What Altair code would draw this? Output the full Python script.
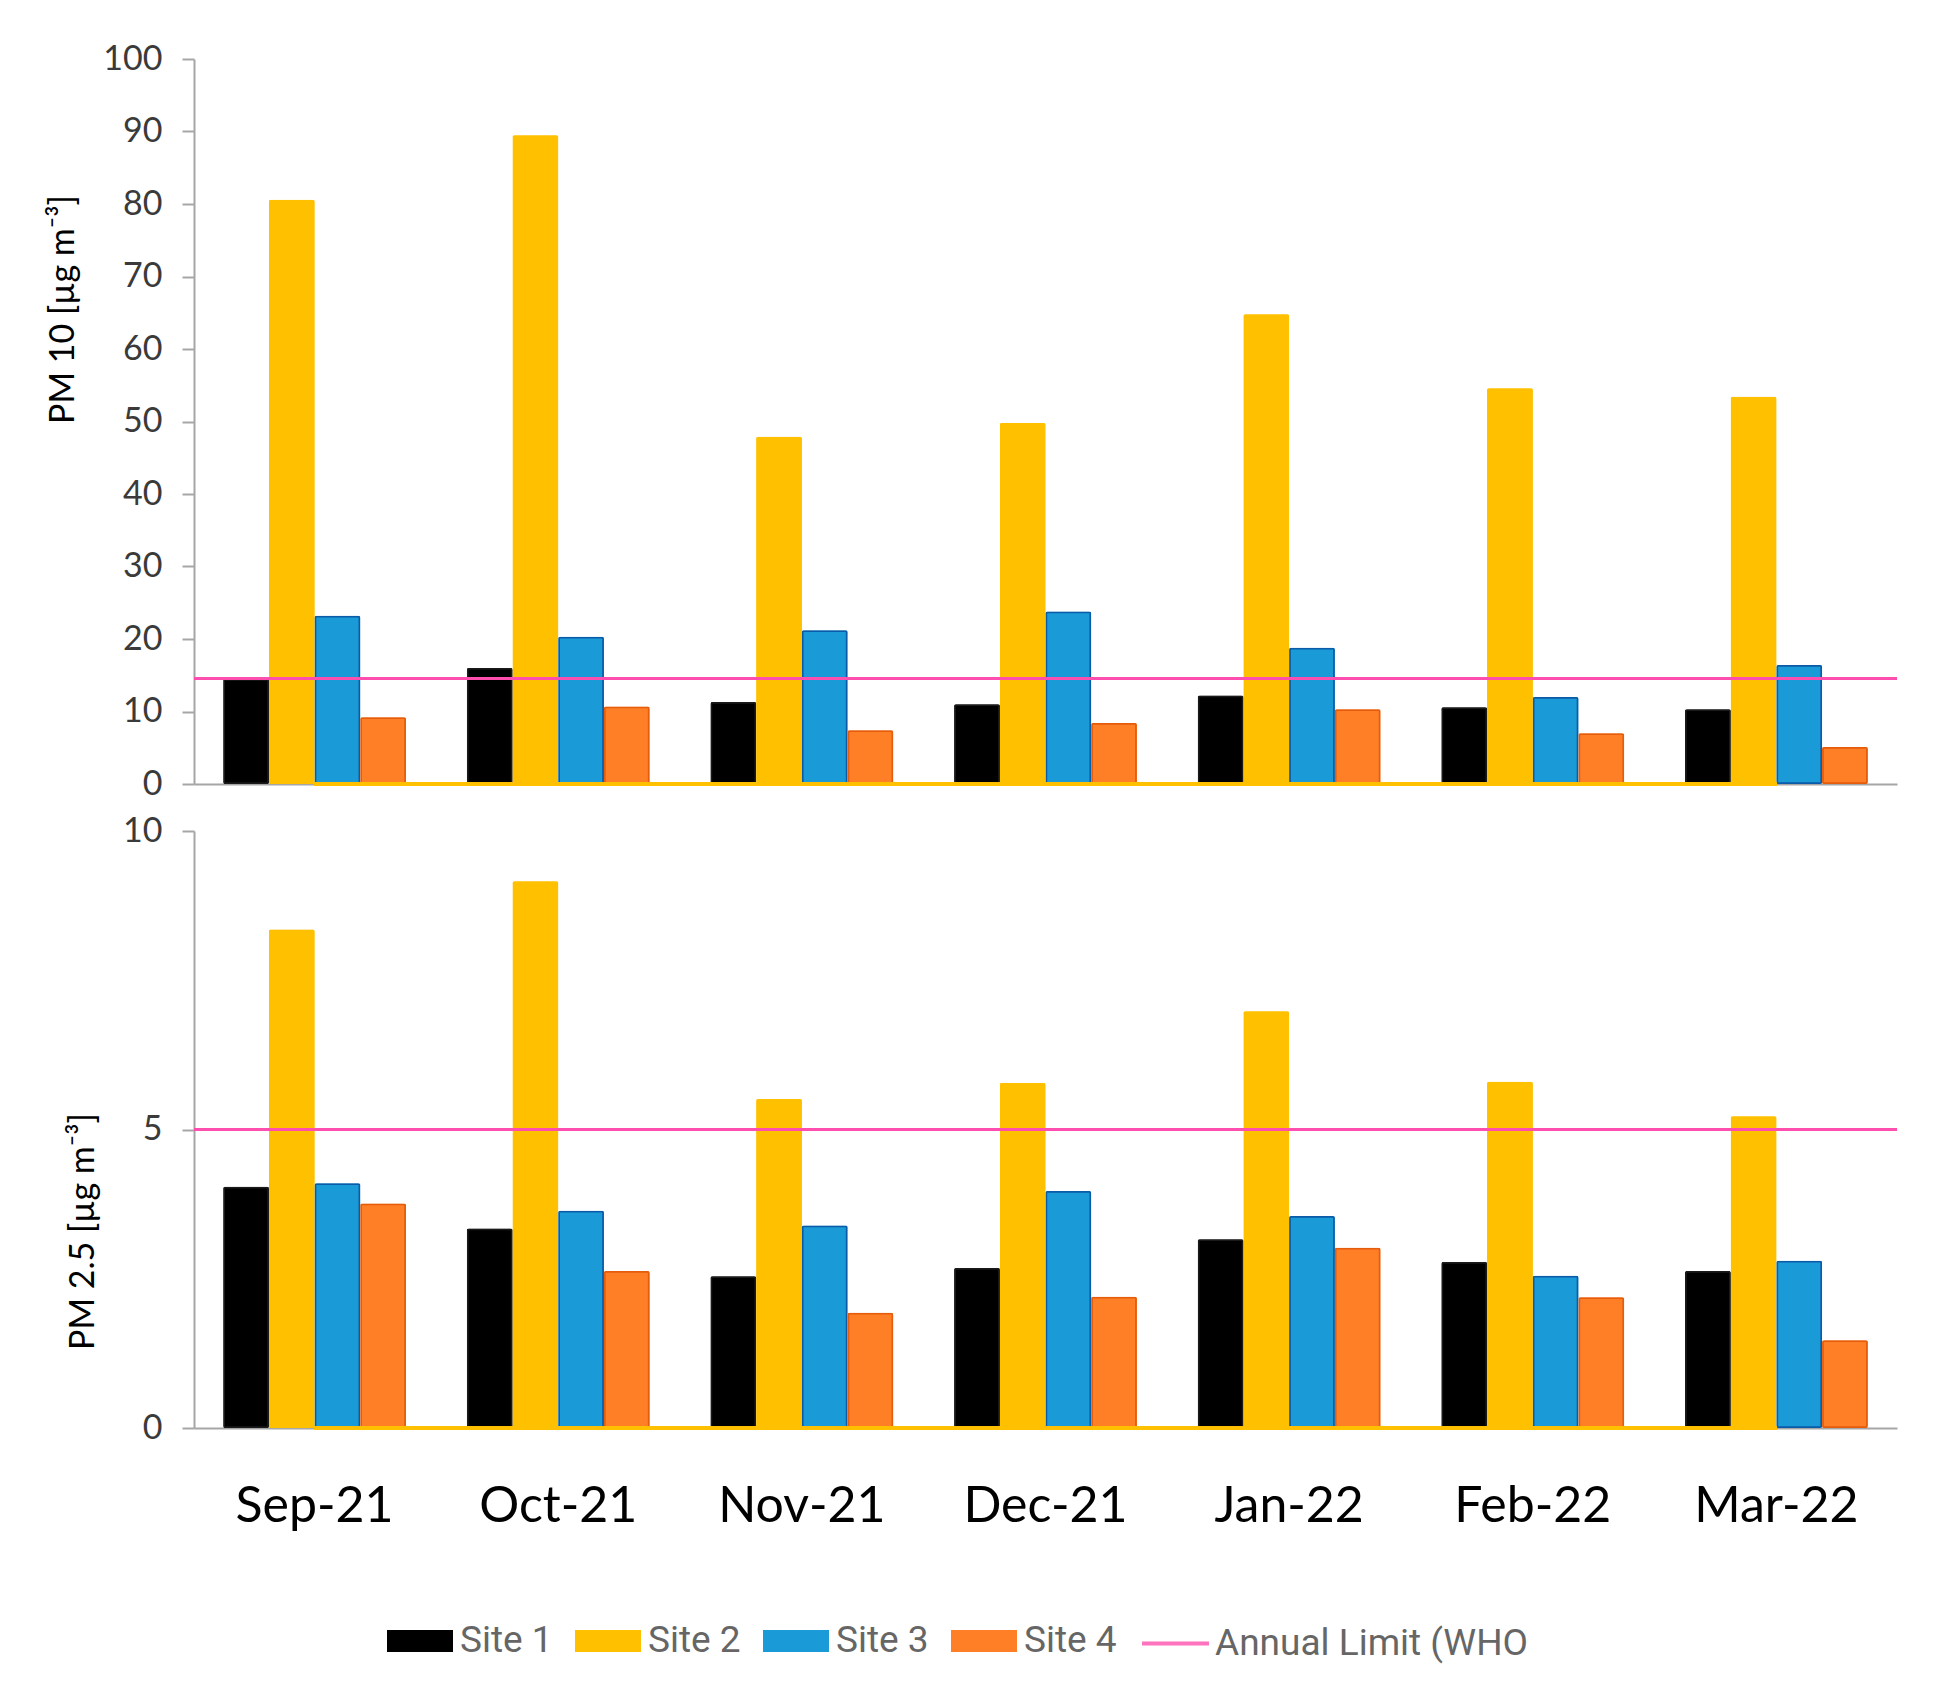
import altair as alt
import pandas as pd

months = ["Sep-21", "Oct-21", "Nov-21", "Dec-21", "Jan-22", "Feb-22", "Mar-22"]
sites = ["Site 1", "Site 2", "Site 3", "Site 4"]
who_label = "Annual Limit (WHO"

pm10_site1 = [14.5, 16.0, 11.3, 11.0, 12.2, 10.6, 10.3]
pm10_site2 = [80.6, 89.5, 47.9, 49.8, 64.8, 54.6, 53.4]
pm10_site3 = [23.2, 20.3, 21.2, 23.8, 18.8, 12.0, 16.4]
pm10_site4 = [9.2, 10.7, 7.4, 8.4, 10.3, 7.0, 5.1]
pm10_who = 14.6

pm25_site1 = [4.04, 3.34, 2.54, 2.68, 3.16, 2.78, 2.63]
pm25_site2 = [8.35, 9.16, 5.51, 5.78, 6.98, 5.80, 5.22]
pm25_site3 = [4.10, 3.64, 3.39, 3.97, 3.55, 2.55, 2.80]
pm25_site4 = [3.76, 2.63, 1.93, 2.20, 3.02, 2.19, 1.47]
pm25_who = 5.0

fill_colors = ["#000000", "#FFC000", "#1A9AD6", "#FF7F27"]
edge_colors = {"Site 1": "#1A1A1A", "Site 2": "#FFC000", "Site 3": "#0B5CA8", "Site 4": "#E45C0C"}
who_color = "#FF4FAE"


def long_frame(series):
    rows = []
    for site, vals in zip(sites, series):
        for m, v in zip(months, vals):
            rows.append({"month": m, "site": site, "value": v, "edge": edge_colors[site]})
    return pd.DataFrame(rows)


df10 = long_frame([pm10_site1, pm10_site2, pm10_site3, pm10_site4])
df25 = long_frame([pm25_site1, pm25_site2, pm25_site3, pm25_site4])

FONT = "Lato"
LEG_FONT = "Roboto"
WIDTH = 1703

site_legend = alt.Legend(
    title=None,
    orient="none",
    legendX=193,
    legendY=1549,
    direction="horizontal",
    labelFont=LEG_FONT,
    labelFontSize=37,
    labelColor="#666666",
    labelLimit=500,
    labelOffset=7,
    columnPadding=22,
    symbolType="M-1,-0.33H1V0.33H-1Z",
    symbolSize=4356,
    symbolStrokeWidth=0,
    symbolOpacity=1,
)

who_legend = alt.Legend(
    title=None,
    orient="none",
    legendX=946,
    legendY=1549,
    direction="horizontal",
    labelFont=LEG_FONT,
    labelFontSize=37,
    labelColor="#666666",
    labelLimit=500,
    labelOffset=4,
    symbolType="stroke",
    symbolSize=4489,
    symbolStrokeColor=who_color,
    symbolStrokeWidth=4,
)

color_scale = alt.Scale(domain=sites, range=fill_colors)


def panel(df, who, ymax, ystep, title, title_y, show_labels, height):
    x_axis = alt.Axis(
        title=None,
        labels=show_labels,
        ticks=False,
        domainColor="#A6A6A6",
        domainWidth=2,
        labelFont=FONT,
        labelFontSize=50,
        labelColor="#000000",
        labelPadding=53,
        labelAngle=0,
    )
    x = alt.X("month:N", sort=months, axis=x_axis,
              scale=alt.Scale(paddingInner=0.25, paddingOuter=0.12))
    y = alt.Y(
        "value:Q",
        scale=alt.Scale(domain=[0, ymax], nice=False),
        axis=alt.Axis(
            title=title,
            values=list(range(0, ymax + 1, ystep)),
            format="d",
            grid=False,
            domainColor="#A6A6A6",
            domainWidth=2,
            tickColor="#A6A6A6",
            tickWidth=2,
            tickSize=12,
            labelFont=FONT,
            labelFontSize=34,
            labelColor="#3A3A3A",
            labelPadding=20,
            titleFont=FONT,
            titleFontSize=34,
            titleFontWeight="normal",
            titleColor="#000000",
            titlePadding=22,
            titleY=title_y,
        ),
    )
    bars = alt.Chart(df).mark_bar(strokeWidth=3.5, cornerRadius=2).encode(
        x=x,
        xOffset=alt.XOffset("site:N", sort=sites, scale=alt.Scale(paddingInner=0, paddingOuter=0)),
        y=y,
        color=alt.Color("site:N", scale=color_scale, legend=site_legend),
        stroke=alt.Stroke("edge:N", scale=None),
    )
    base_line = alt.Chart(df).mark_rule(color="#FFC000", strokeWidth=3).encode(
        x=alt.datum(months[0]),
        x2=alt.datum(months[-1]),
        y=alt.datum(0),
    )
    who_line = alt.Chart(df).mark_rule(strokeWidth=2.5, opacity=0.8, color=who_color).encode(
        y=alt.datum(who),
        strokeDash=alt.StrokeDash(
            "lbl:N",
            scale=alt.Scale(domain=[who_label], range=[[1, 0]]),
            legend=who_legend,
        ),
    ).transform_calculate(lbl=f"'{who_label}'")
    return alt.layer(bars, base_line, who_line).properties(width=WIDTH, height=height)


top = panel(df10, pm10_who, 100, 10, "PM 10 [µg m⁻³]", 250, False, 725)
bottom = panel(df25, pm25_who, 10, 5, "PM 2.5 [µg m⁻³]", 400, True, 597)

chart = (
    alt.vconcat(top, bottom, spacing=13)
    .resolve_scale(color="shared", strokeDash="shared", y="independent")
    .properties(padding={"left": 38, "top": 34, "right": 20, "bottom": 10}, background="white")
    .configure_view(stroke=None)
)

chart.save("out.html", embed_options={"renderer": "svg", "actions": False})
